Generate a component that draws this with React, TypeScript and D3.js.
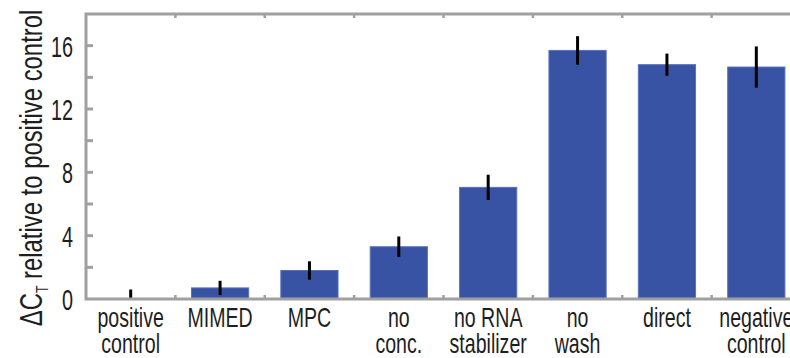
import React from 'react';
import * as d3 from 'd3';

// chart data
const categories = ['positive control', 'MIMED', 'MPC', 'no conc.', 'no RNA stabilizer', 'no wash', 'direct', 'negative control'];
const labelLines = [['positive', 'control'], ['MIMED'], ['MPC'], ['no', 'conc.'], ['no RNA', 'stabilizer'], ['no', 'wash'], ['direct'], ['negative', 'control']];
const deltaCt = [0, 0.7, 1.8, 3.3, 7.05, 15.7, 14.8, 14.65];
const errors = [0.6, 0.45, 0.58, 0.65, 0.8, 0.9, 0.7, 1.3];
const majorTicks = [0, 4, 8, 12, 16];
const minorTicks = [2, 6, 10, 14];

const W = 790, H = 358;
const margin = { top: 14, left: 86, bottom: 299, right: 801 };
const FONT = '"Liberation Sans", Arial, Helvetica, sans-serif';
const axisColor = '#a0a0a0';
const barColor = '#3953a4';

export default function App() {
  const x = d3.scaleBand<string>()
    .domain(categories)
    .range([margin.left, margin.right])
    .paddingInner(0.36)
    .paddingOuter(0.18);
  const step = x.step();
  const y = d3.scaleLinear().domain([0, 18]).range([margin.bottom, margin.top]);

  const bounds = d3.range(1, categories.length).map(k => margin.left + k * step);

  return (
    <svg width={W} height={H} style={{ position: 'absolute', left: 0, top: 0, overflow: 'hidden' }}
      fontFamily={FONT}>
      <rect width={W} height={H} fill="#fff" />
      {/* bars */}
      {categories.map((c, i) => (
        <rect key={c} x={x(c)} y={y(deltaCt[i])} width={x.bandwidth()}
          height={y(0) - y(deltaCt[i])} fill={barColor} stroke="#5a70bb" strokeWidth={1} />
      ))}
      {/* error bars */}
      {categories.map((c, i) => (
        <line key={c} x1={x(c)! + x.bandwidth() / 2} x2={x(c)! + x.bandwidth() / 2}
          y1={y(Math.max(0, deltaCt[i] - errors[i]))} y2={y(deltaCt[i] + errors[i])}
          stroke="#000" strokeWidth={3} />
      ))}
      {/* frame */}
      <path d={`M${W + 5},${margin.top}H${margin.left}V${margin.bottom}H${W + 5}`}
        fill="none" stroke={axisColor} strokeWidth={3} />
      {/* y ticks */}
      {majorTicks.concat(minorTicks).filter(t => t > 0).map(t => (
        <line key={t} x1={margin.left} x2={margin.left + 7} y1={y(t)} y2={y(t)} stroke={axisColor} strokeWidth={3} />
      ))}
      {/* category boundary ticks */}
      {bounds.map(b => (
        <g key={b}>
          <line x1={b} x2={b} y1={margin.bottom} y2={margin.bottom - 4} stroke={axisColor} strokeWidth={2.5} />
          <line x1={b} x2={b} y1={margin.top} y2={margin.top + 4} stroke={axisColor} strokeWidth={2.5} />
        </g>
      ))}
      {/* y tick labels */}
      {majorTicks.map(t => (
        <text key={t} transform={`translate(73,${y(t) + 11}) scale(0.66,1)`} textAnchor="end"
          fontSize={30} fill="#1e1e1e">{t}</text>
      ))}
      {/* category labels */}
      {categories.map((c, i) => (
        <text key={c} transform={`translate(${x(c)! + x.bandwidth() / 2},0) scale(0.7,1)`}
          textAnchor="middle" fontSize={28} fill="#1e1e1e">
          {labelLines[i].map((ln, j) => (
            <tspan key={j} x={0} y={327 + j * 26}>{ln}</tspan>
          ))}
        </text>
      ))}
      {/* y axis title */}
      <text transform={`translate(42,168) rotate(-90) scale(0.77,1)`} textAnchor="middle"
        fontSize={31} fill="#1e1e1e">
        ΔC<tspan fontSize={16} dy={6}>T</tspan><tspan dy={-6}> relative to positive control</tspan>
      </text>
    </svg>
  );
}
